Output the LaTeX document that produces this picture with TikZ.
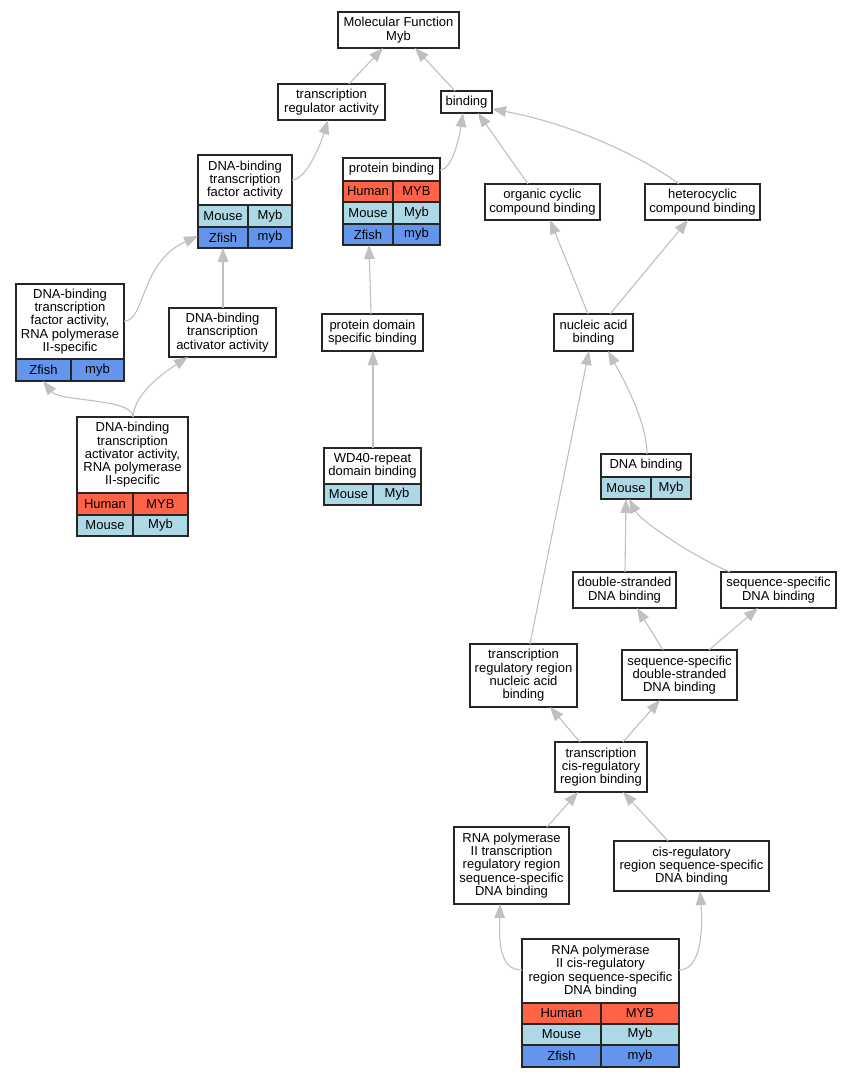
\documentclass[tikz,border=0pt]{standalone}
\usepackage{fontspec}
\setmainfont{Liberation Sans}
\usetikzlibrary{arrows.meta}
\definecolor{human}{HTML}{FF6347}
\definecolor{mouse}{HTML}{ADD8E6}
\definecolor{zfish}{HTML}{6495ED}
\definecolor{edgec}{HTML}{C0C0C0}
\newcommand\gbox[6]{\node[gbx,minimum width={(#4-#2)*1pt},minimum height={(#5-#3)*1pt}] (#1) at (#2,#3) {#6};}
\newcommand\gcell[7]{\node[gbx,fill=#6,minimum width={(#4-#2)*1pt},minimum height={(#5-#3)*1pt}] (#1) at (#2,#3) {#7};}
\begin{document}
\begin{tikzpicture}[x=1pt,y=-1pt,
  gbx/.style={draw=black!85,line width=1.1pt,fill=white,inner sep=0pt,outer sep=0pt,align=center,anchor=north west,font=\fontsize{13}{13.3}\selectfont},
  conn/.style={draw=edgec,line width=1.1pt,-{Triangle[length=14pt,width=10.5pt]}}]
\fill[white] (0,0) rectangle (852,1077);
\useasboundingbox (0,0) rectangle (852,1077);
% nodes
\gbox{mf}{338}{12}{459}{48}{Molecular Function\\Myb}
\gbox{trra}{278}{84}{385}{120}{transcription\\regulator activity}
\gbox{bind}{441}{91}{492}{113}{binding}
\gbox{tfa}{198}{155}{292}{205}{DNA-binding\\transcription\\factor activity}
\gcell{tfa-ml}{198}{205}{248}{227}{mouse}{Mouse}
\gcell{tfa-mr}{248}{205}{292}{227}{mouse}{Myb}
\gcell{tfa-zl}{198}{227}{248}{248}{zfish}{Zfish}
\gcell{tfa-zr}{248}{227}{292}{248}{zfish}{myb}
\gbox{pb}{343}{158}{440}{181}{protein binding}
\gcell{pb-hl}{343}{181}{393}{202}{human}{Human}
\gcell{pb-hr}{393}{181}{440}{202}{human}{MYB}
\gcell{pb-ml}{343}{202}{393}{224}{mouse}{Mouse}
\gcell{pb-mr}{393}{202}{440}{224}{mouse}{Myb}
\gcell{pb-zl}{343}{224}{393}{245}{zfish}{Zfish}
\gcell{pb-zr}{393}{224}{440}{245}{zfish}{myb}
\gbox{occb}{485}{184}{600}{220}{organic cyclic\\compound binding}
\gbox{hcb}{645}{184}{760}{220}{heterocyclic\\compound binding}
\gbox{tfa2}{16}{284}{124}{359}{DNA-binding\\transcription\\factor activity,\\RNA polymerase\\II-specific}
\gcell{tfa2-zl}{16}{359}{71}{381}{zfish}{Zfish}
\gcell{tfa2-zr}{71}{359}{124}{381}{zfish}{myb}
\gbox{taa}{169}{308}{276}{357}{DNA-binding\\transcription\\activator activity}
\gbox{pdsb}{322}{314}{423}{351}{protein domain\\specific binding}
\gbox{nab}{554}{314}{633}{351}{nucleic acid\\binding}
\gbox{taa2}{77}{417}{188}{493}{DNA-binding\\transcription\\activator activity,\\RNA polymerase\\II-specific}
\gcell{taa2-hl}{77}{493}{133}{515}{human}{Human}
\gcell{taa2-hr}{133}{493}{188}{515}{human}{MYB}
\gcell{taa2-ml}{77}{515}{133}{536}{mouse}{Mouse}
\gcell{taa2-mr}{133}{515}{188}{536}{mouse}{Myb}
\gbox{wd40}{324}{448}{421}{484}{WD40-repeat\\domain binding}
\gcell{wd40-ml}{324}{484}{373}{505}{mouse}{Mouse}
\gcell{wd40-mr}{373}{484}{421}{505}{mouse}{Myb}
\gbox{dnab}{601}{454}{691}{477}{DNA binding}
\gcell{dnab-ml}{601}{477}{651}{499}{mouse}{Mouse}
\gcell{dnab-mr}{651}{477}{691}{499}{mouse}{Myb}
\gbox{dsdb}{573}{572}{676}{608}{double-stranded\\DNA binding}
\gbox{ssdb}{721}{572}{836}{608}{sequence-specific\\DNA binding}
\gbox{trrnab}{470}{644}{577}{707}{transcription\\regulatory region\\nucleic acid\\binding}
\gbox{ssds}{622}{650}{737}{700}{sequence-specific\\double-stranded\\DNA binding}
\gbox{tcrb}{555}{742}{647}{792}{transcription\\cis-regulatory\\region binding}
\gbox{rp2trr}{454}{827}{569}{904}{RNA polymerase\\II transcription\\regulatory region\\sequence-specific\\DNA binding}
\gbox{crssdb}{614}{841}{769}{891}{cis-regulatory\\region sequence-specific\\DNA binding}
\gbox{rp2cr}{522}{939}{679}{1003}{RNA polymerase\\II cis-regulatory\\region sequence-specific\\DNA binding}
\gcell{rp2cr-hl}{522}{1003}{601}{1024}{human}{Human}
\gcell{rp2cr-hr}{601}{1003}{679}{1024}{human}{MYB}
\gcell{rp2cr-ml}{522}{1024}{601}{1045}{mouse}{Mouse}
\gcell{rp2cr-mr}{601}{1024}{679}{1045}{mouse}{Myb}
\gcell{rp2cr-zl}{522}{1045}{601}{1067}{zfish}{Zfish}
\gcell{rp2cr-zr}{601}{1045}{679}{1067}{zfish}{myb}
% connectors
\draw[conn] ([xshift=71]trra.north west) -- ([xshift=45]mf.south west);
\draw[conn] ([xshift=14]bind.north west) -- ([xshift=77]mf.south west);
\draw[conn] ([yshift=-25]tfa.north east) .. controls +(14,0) and +(-8,26) .. ([xshift=50]trra.south west);
\draw[conn] ([yshift=-12]pb.north east) .. controls +(12,0) and +(-4,26) .. ([xshift=22]bind.south west);
\draw[conn] ([xshift=43]occb.north west) -- ([xshift=37]bind.south west);
\draw[conn] ([xshift=34]hcb.north west) .. controls +(-29,-22) and +(87,16) .. ([yshift=-18]bind.north east);
\draw[conn] ([xshift=34]nab.north west) -- ([xshift=65]occb.south west);
\draw[conn] ([xshift=56]nab.north west) -- ([xshift=43]hcb.south west);
\draw[conn] ([xshift=46]dnab.north west) .. controls +(0,-34) and +(12,22) .. ([xshift=54]nab.south west);
\draw[conn] ([xshift=60]trrnab.north west) -- ([xshift=35]nab.south west);
\draw[conn] ([xshift=52]dsdb.north west) -- ([xshift=25]dnab-ml.south west);
\draw[conn] ([xshift=9]ssdb.north west) .. controls +(-40,-17) and +(11,21) .. ([xshift=28]dnab-ml.south west);
\draw[conn] ([xshift=41]ssds.north west) -- ([xshift=64]dsdb.south west);
\draw[conn] ([xshift=87]ssds.north west) -- ([xshift=37]ssdb.south west);
\draw[conn] ([xshift=25]tcrb.north west) -- ([xshift=80]trrnab.south west);
\draw[conn] ([xshift=68]tcrb.north west) -- ([xshift=38]ssds.south west);
\draw[conn] ([xshift=93]rp2trr.north west) -- ([xshift=23]tcrb.south west);
\draw[conn] ([xshift=54]crssdb.north west) -- ([xshift=68]tcrb.south west);
\draw[conn] ([yshift=-31]rp2cr.north west) .. controls +(-22,0) and +(-1,40) .. ([xshift=46]rp2trr.south west);
\draw[conn] ([yshift=-31]rp2cr.north east) .. controls +(22,0) and +(3,40) .. ([xshift=86]crssdb.south west);
\draw[conn] ([yshift=-37]tfa2.north east) .. controls +(21,1) and +(-58,26) .. ([yshift=-9]tfa-zl.north west);
\draw[conn] ([xshift=54]taa.north west) -- ([xshift=25]tfa-zl.south west);
\draw[conn] ([xshift=49]pdsb.north west) -- ([xshift=26]pb-zl.south west);
\draw[conn] ([xshift=49]wd40.north west) -- ([xshift=51]pdsb.south west);
\draw[conn] ([xshift=56]taa2.north west) .. controls +(0,-19) and +(17,21) .. ([xshift=27]tfa2-zl.south west);
\draw[conn] ([xshift=56]taa2.north west) .. controls +(1,-22) and +(-28,18) .. ([xshift=19]taa.south west);
\end{tikzpicture}
\end{document}
